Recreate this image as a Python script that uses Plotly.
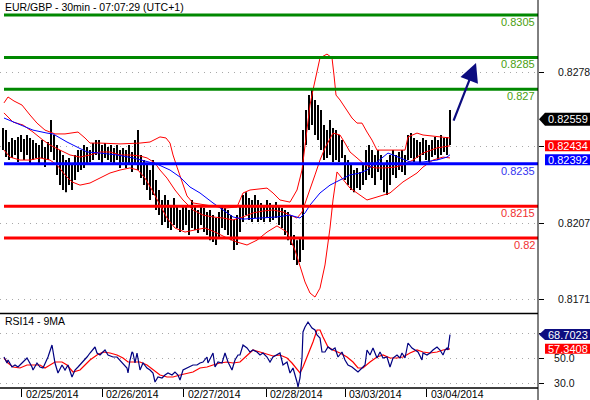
import plotly.graph_objects as go

# ---------------- data ----------------
bar_high = [
    0.82518, 0.82508, 0.82452, 0.82471, 0.82461, 0.82476, 0.82485, 0.82466, 0.82485, 0.82471,
    0.82461, 0.82447, 0.82438, 0.82461, 0.82428, 0.82452, 0.82556, 0.82485, 0.82438, 0.82414,
    0.82391, 0.82367, 0.82377, 0.82353, 0.82391, 0.82414, 0.82414, 0.82438, 0.82428, 0.82414,
    0.82447, 0.82461, 0.82461, 0.82438, 0.82447, 0.82428, 0.82438, 0.82424, 0.82438, 0.82414,
    0.82424, 0.82414, 0.82438, 0.82405, 0.82461, 0.82508, 0.82391, 0.82367, 0.82344, 0.82320,
    0.82367, 0.82273, 0.82226, 0.82179, 0.82202, 0.82179, 0.82155, 0.82188, 0.82155, 0.82132,
    0.82146, 0.82155, 0.82132, 0.82179, 0.82155, 0.82132, 0.82155, 0.82141, 0.82122, 0.82132,
    0.82108, 0.82094, 0.82122, 0.82155, 0.82141, 0.82132, 0.82108, 0.82085, 0.82108, 0.82155,
    0.82202, 0.82216, 0.82188, 0.82179, 0.82202, 0.82179, 0.82165, 0.82155, 0.82179, 0.82165,
    0.82155, 0.82169, 0.82155, 0.82141, 0.82132, 0.82122, 0.82108, 0.82014, 0.81990, 0.82000,
    0.82508, 0.82603, 0.82673, 0.82697, 0.82650, 0.82626, 0.82603, 0.82532, 0.82508, 0.82556,
    0.82518, 0.82508, 0.82485, 0.82461, 0.82391, 0.82367, 0.82344, 0.82320, 0.82330, 0.82311,
    0.82344, 0.82414, 0.82438, 0.82414, 0.82391, 0.82414, 0.82391, 0.82344, 0.82367, 0.82391,
    0.82414, 0.82391, 0.82405, 0.82414, 0.82391, 0.82485, 0.82494, 0.82471, 0.82461, 0.82452,
    0.82471, 0.82461, 0.82438, 0.82461, 0.82476, 0.82461, 0.82485, 0.82471, 0.82476, 0.82603,
]
bar_low = [
    0.82414, 0.82381, 0.82367, 0.82377, 0.82391, 0.82358, 0.82405, 0.82367, 0.82391, 0.82344,
    0.82367, 0.82377, 0.82353, 0.82377, 0.82334, 0.82367, 0.82405, 0.82367, 0.82297, 0.82249,
    0.82226, 0.82216, 0.82249, 0.82226, 0.82273, 0.82311, 0.82320, 0.82330, 0.82344, 0.82358,
    0.82367, 0.82391, 0.82367, 0.82344, 0.82377, 0.82367, 0.82358, 0.82344, 0.82367, 0.82330,
    0.82358, 0.82330, 0.82344, 0.82311, 0.82344, 0.82320, 0.82282, 0.82249, 0.82226, 0.82179,
    0.82202, 0.82132, 0.82108, 0.82061, 0.82075, 0.82047, 0.82038, 0.82061, 0.82047, 0.82028,
    0.82038, 0.82061, 0.82014, 0.82047, 0.82038, 0.82023, 0.82061, 0.82028, 0.82014, 0.81990,
    0.81981, 0.81967, 0.82000, 0.82047, 0.82038, 0.82014, 0.81990, 0.81943, 0.81967, 0.82028,
    0.82075, 0.82108, 0.82085, 0.82075, 0.82094, 0.82075, 0.82085, 0.82075, 0.82094, 0.82075,
    0.82085, 0.82094, 0.82061, 0.82047, 0.82014, 0.81990, 0.81967, 0.81896, 0.81873, 0.81887,
    0.81943, 0.82438, 0.82508, 0.82532, 0.82485, 0.82461, 0.82414, 0.82367, 0.82377, 0.82391,
    0.82358, 0.82367, 0.82358, 0.82377, 0.82273, 0.82249, 0.82226, 0.82216, 0.82235, 0.82226,
    0.82249, 0.82273, 0.82297, 0.82282, 0.82249, 0.82311, 0.82273, 0.82216, 0.82202, 0.82249,
    0.82297, 0.82282, 0.82320, 0.82311, 0.82297, 0.82367, 0.82377, 0.82358, 0.82377, 0.82344,
    0.82391, 0.82367, 0.82358, 0.82381, 0.82391, 0.82367, 0.82391, 0.82405, 0.82391, 0.82438,
]
bar_x = list(range(len(bar_high)))

bb_upper_x = [0.33, 1.67, 3.67, 6.33, 9, 11.33, 14, 17.33, 20.67, 25, 27.33, 29, 32.33, 39, 45.67,
              49, 52.33, 54.33, 55.67, 56.67, 58, 59.67, 61.33, 63.33, 68, 74, 78, 80, 82.33, 88,
              90, 92.33, 95.67, 98, 99.67, 101, 102.33, 103.33, 104.67, 105.67, 108, 109.67,
              110.33, 111, 112.33, 114.67, 116.33, 118, 119.67, 121.33, 123, 124.67, 129, 134,
              135, 138, 140, 144.67, 149]
bb_upper = [0.82636, 0.82664, 0.82645, 0.82626, 0.82579, 0.82541, 0.82508, 0.82490, 0.82490,
            0.82499, 0.82471, 0.82447, 0.82447, 0.82443, 0.82447, 0.82452, 0.82476, 0.82471,
            0.82447, 0.82391, 0.82334, 0.82264, 0.82198, 0.82165, 0.82155, 0.82141, 0.82146,
            0.82212, 0.82226, 0.82235, 0.82212, 0.82179, 0.82169, 0.82226, 0.82320, 0.82485,
            0.82626, 0.82697, 0.82791, 0.82848, 0.82866, 0.82848, 0.82767, 0.82673, 0.82650,
            0.82603, 0.82565, 0.82541, 0.82541, 0.82499, 0.82461, 0.82414, 0.82414, 0.82414,
            0.82476, 0.82494, 0.82485, 0.82476, 0.82471]

bb_mid_x = [0.33, 3.33, 6.67, 10, 13.33, 15.67, 19, 22.33, 25.67, 29, 32.33, 35.67, 39, 42.33,
            45.67, 48, 50.67, 52.33, 54.67, 57.33, 60, 63.33, 66.67, 70, 73.33, 76.67, 80, 83.33,
            86.67, 90, 93.33, 95.67, 98, 99.67, 101, 102.33, 104, 105.67, 107.33, 110, 112.33,
            114, 115.67, 118, 120.67, 124, 127.33, 130.67, 133.33, 136.67, 140, 144.67, 149]
bb_mid = [0.82589, 0.82546, 0.82532, 0.82499, 0.82461, 0.82438, 0.82414, 0.82391, 0.82381,
          0.82391, 0.82405, 0.82405, 0.82391, 0.82391, 0.82386, 0.82377, 0.82353, 0.82320,
          0.82282, 0.82226, 0.82179, 0.82132, 0.82108, 0.82099, 0.82094, 0.82085, 0.82099,
          0.82118, 0.82127, 0.82132, 0.82122, 0.82108, 0.82094, 0.82122, 0.82179, 0.82235,
          0.82297, 0.82367, 0.82424, 0.82494, 0.82485, 0.82447, 0.82405, 0.82377, 0.82344,
          0.82330, 0.82330, 0.82334, 0.82344, 0.82367, 0.82400, 0.82424, 0.82434]

bb_lower_x = [0.33, 2.33, 5.67, 9, 12.33, 15.67, 18, 20.67, 23, 25.67, 29, 32.33, 35.67, 39,
              42.33, 45, 47.33, 49.67, 52.33, 54.67, 57.33, 60.67, 64, 67.33, 70.67, 74.67, 78,
              81.33, 84.67, 88, 91.33, 94.67, 97.33, 99, 100.67, 102.33, 104, 105.67, 107.33,
              109, 110, 111.33, 113, 115.67, 119, 121.33, 124.67, 129, 133.33, 138, 140, 143.33,
              146.67, 149]
bb_lower = [0.82414, 0.82381, 0.82367, 0.82367, 0.82377, 0.82367, 0.82344, 0.82297, 0.82264,
            0.82249, 0.82259, 0.82282, 0.82306, 0.82320, 0.82330, 0.82320, 0.82282, 0.82226,
            0.82155, 0.82094, 0.82047, 0.82028, 0.82038, 0.82047, 0.82028, 0.82000, 0.81981,
            0.81967, 0.81990, 0.82028, 0.82057, 0.82028, 0.81943, 0.81873, 0.81793, 0.81741,
            0.81722, 0.81764, 0.81873, 0.82047, 0.82179, 0.82311, 0.82282, 0.82235, 0.82202,
            0.82179, 0.82193, 0.82212, 0.82264, 0.82306, 0.82334, 0.82367, 0.82381, 0.82377]

ma_x = [0.33, 5.67, 10, 14.67, 16.67, 21.33, 24.67, 28, 32.33, 38, 43.33, 48, 51.33, 55.67, 59,
        62.33, 65.67, 70, 73.33, 76.67, 80, 85.67, 91.33, 95.67, 99, 100.67, 102.33, 105.67, 109,
        112.33, 115.67, 119, 121.33, 124.67, 126.67, 128.33, 130, 132.33, 135.67, 140, 144.67,
        148, 149]
ma_vals = [0.82565, 0.82532, 0.82508, 0.82494, 0.82490, 0.82452, 0.82428, 0.82405, 0.82400,
           0.82391, 0.82377, 0.82358, 0.82348, 0.82320, 0.82287, 0.82240, 0.82212, 0.82165,
           0.82132, 0.82099, 0.82089, 0.82094, 0.82099, 0.82108, 0.82094, 0.82118, 0.82155,
           0.82212, 0.82249, 0.82273, 0.82297, 0.82306, 0.82320, 0.82358, 0.82381, 0.82400,
           0.82391, 0.82377, 0.82358, 0.82358, 0.82367, 0.82381, 0.82392]

rsi_x = [0.33, 1.33, 1.67, 3, 4, 5, 6.33, 7.33, 8, 9.67, 10, 11.33, 12.33, 13.33, 15, 16.33,
         16.67, 17.33, 18.33, 19.67, 20.67, 21.67, 23, 24, 25, 26.33, 28, 29, 30, 30.67, 31.33,
         32.33, 33.33, 34, 35, 36.67, 38, 39, 40, 41.33, 41.67, 42.33, 43, 43.33, 44, 44.67,
         45.67, 46.67, 48, 49, 50, 50.67, 51.67, 53, 54, 55, 56.33, 57.33, 58.33, 59, 60, 61.33,
         62.33, 63.33, 64.67, 65.67, 66.67, 68, 68.33, 69.67, 70, 70.67, 71.67, 73, 74, 75,
         76.33, 77.33, 78.33, 79, 80, 81.33, 82.33, 83.33, 84.67, 85.67, 86.67, 88, 89, 90,
         91.33, 92.33, 93.33, 94.67, 95.67, 96.67, 98, 98.33, 99, 99.67, 100, 100.67, 101.67,
         103, 104, 104.67, 105.67, 106.33, 107.33, 108.33, 109.67, 110.67, 111.67, 113, 114,
         115, 116.33, 117.33, 118.33, 119.67, 120.67, 121.33, 122.33, 123.33, 124.67, 125.67,
         126.67, 128, 129, 130, 131.33, 132.33, 133, 134, 135, 136.33, 137.33, 138.33, 139.67,
         140, 141.33, 142.33, 143.33, 144.67, 145.67, 146.67, 147.33, 148, 148.33, 149]
rsi_vals = [50.8, 46.0, 48.4, 42.8, 44.4, 42.8, 46.0, 48.4, 50.0, 42.8, 40.4, 46.0, 42.8, 42.0,
            50.8, 60.4, 54.0, 46.0, 38.0, 44.4, 40.4, 44.4, 34.8, 40.4, 42.8, 46.0, 50.8, 54.0,
            56.4, 58.8, 54.0, 52.4, 54.8, 56.4, 52.4, 50.8, 50.8, 48.4, 46.0, 42.0, 38.0, 48.4,
            54.8, 54.0, 46.0, 54.0, 40.4, 46.0, 42.0, 40.4, 38.0, 30.8, 34.8, 34.0, 36.4, 38.0,
            36.4, 38.8, 36.4, 32.4, 40.4, 42.0, 42.8, 44.4, 44.4, 46.0, 46.8, 50.8, 46.0, 52.4,
            54.0, 42.8, 46.8, 46.0, 54.0, 46.8, 40.4, 48.4, 52.4, 52.4, 60.4, 58.0, 54.8, 56.4,
            54.8, 52.4, 54.0, 50.8, 46.8, 50.8, 52.4, 54.0, 44.4, 46.8, 38.0, 42.0, 30.8, 26.8,
            34.0, 50.0, 70.8, 74.8, 78.8, 74.0, 72.4, 68.4, 66.0, 54.8, 54.8, 58.8, 56.4, 58.0,
            50.8, 54.8, 48.4, 44.4, 42.8, 40.4, 38.8, 42.0, 44.4, 56.4, 52.4, 58.0, 50.0, 54.8,
            50.0, 50.8, 42.8, 50.0, 52.4, 50.0, 54.0, 50.0, 62.0, 58.0, 56.4, 54.8, 48.4, 54.0,
            52.4, 54.0, 56.4, 58.8, 56.4, 52.4, 56.4, 58.0, 56.4, 68.7023]

rsi_ma_x = [0.33, 1.67, 3.33, 5.67, 8, 10, 12.33, 14, 15.67, 17.33, 19.67, 21.33, 23.33, 25.67,
            27.33, 29, 31.33, 33.33, 35.67, 38, 40, 41.67, 43.33, 45.67, 48, 50, 52.33, 54.67,
            56.67, 59, 61.33, 63.33, 65.67, 68, 70, 72.33, 74.67, 76.67, 79, 81.33, 83.33, 85.67,
            88, 90, 92.33, 94.67, 96.33, 98, 99, 100, 101.67, 103.33, 104.67, 105.67, 106.67,
            108.33, 110, 112.33, 114.67, 116.67, 118.33, 120, 122.33, 124.67, 126.67, 129,
            131.33, 133.33, 135.67, 138, 140, 142.33, 144.67, 146.67, 149]
rsi_ma_vals = [50.0, 46.0, 42.8, 42.0, 44.4, 44.4, 44.4, 42.0, 44.4, 46.8, 46.8, 44.4, 38.8,
               40.4, 44.4, 48.4, 52.4, 54.8, 54.0, 52.4, 50.0, 46.8, 46.8, 46.8, 44.4, 40.4,
               36.4, 34.8, 34.8, 36.4, 38.0, 38.8, 42.0, 42.8, 44.4, 46.0, 46.8, 46.0, 46.8,
               52.4, 56.4, 54.8, 53.2, 51.6, 52.4, 50.0, 46.0, 40.4, 38.0, 42.8, 52.4, 62.8,
               72.4, 72.4, 66.8, 58.8, 56.4, 54.0, 50.8, 46.8, 42.0, 42.0, 46.8, 50.8, 52.4,
               50.0, 50.0, 50.8, 54.0, 56.4, 54.8, 54.0, 54.8, 56.4, 57.3408]

green_levels = [0.8305, 0.8285, 0.827]
green_labels = ["0.8305", "0.8285", "0.827"]
blue_levels = [0.8235]
blue_labels = ["0.8235"]
red_levels = [0.8215, 0.82]
red_labels = ["0.8215", "0.82"]

# gridline values; the 0.8243 and 70.0 labels are hidden behind the value boxes
price_ticks = [0.8171, 0.8207, 0.8243, 0.8278]
price_ticktext = ["0.8171", "0.8207", "", "0.8278"]
rsi_ticks = [30, 50, 70]
rsi_ticktext = ["30.0", "50.0", ""]

day_pos = [6.33, 33, 60.33, 87.67, 114, 141.33]
day_labels = ["02/25/2014", "02/26/2014", "02/27/2014", "02/28/2014", "03/03/2014", "03/04/2014"]

last_close = 0.82559
bb_mid_last = 0.82434
ma_last = 0.82392
rsi_last = 68.7023
rsi_ma_last = 57.3408

arrow_from = (150.0, 0.82546)
arrow_to = (157.67, 0.82824)

title_main = "EUR/GBP - 30min - 07:07:29 (UTC+1)"
title_rsi = "RSI14 - 9MA"

# ---------------- layout geometry ----------------
W, H = 590, 400
ML, MR, MT, MB = 0, 52, 0, 12
PW = W - ML - MR
PH = H - MT - MB
MAIN_PX = 313
RSI_PX = 74
main_dom = [(PH - MAIN_PX) / PH, 1.0]
rsi_dom = [0.0, RSI_PX / PH]
price_range = [0.816469, 0.831206]
rsi_range = [26.0, 85.2]
x_range = [-1, (PW - 3) / 3]

FONT = "Arial, Liberation Sans, sans-serif"
price_per_px = (price_range[1] - price_range[0]) / MAIN_PX
rsi_per_px = (rsi_range[1] - rsi_range[0]) / RSI_PX


def px2paper_x(p):
    return (p - ML) / PW


def px2paper_y(p):
    return (PH - (p - MT)) / PH


fig = go.Figure()

# price bars
bx, by = [], []
for i, h, l in zip(bar_x, bar_high, bar_low):
    bx += [i, i, None]
    by += [l, h, None]
fig.add_trace(go.Scatter(x=bx, y=by, mode="lines", line=dict(color="black", width=2),
                         xaxis="x", yaxis="y", hoverinfo="skip"))

for xs, ys in [(bb_upper_x, bb_upper), (bb_mid_x, bb_mid), (bb_lower_x, bb_lower)]:
    fig.add_trace(go.Scatter(x=xs, y=ys, mode="lines", line=dict(color="#ff0000", width=1),
                             xaxis="x", yaxis="y", hoverinfo="skip"))
fig.add_trace(go.Scatter(x=ma_x, y=ma_vals, mode="lines", line=dict(color="#0000ff", width=1),
                         xaxis="x", yaxis="y", hoverinfo="skip"))

# RSI
fig.add_trace(go.Scatter(x=rsi_ma_x, y=rsi_ma_vals, mode="lines", line=dict(color="#ff0000", width=1.2),
                         xaxis="x2", yaxis="y2", hoverinfo="skip"))
fig.add_trace(go.Scatter(x=rsi_x, y=rsi_vals, mode="lines", line=dict(color="#000080", width=1.2),
                         xaxis="x2", yaxis="y2", hoverinfo="skip"))

shapes = []
annotations = []

# level lines + labels
for levels, labels, lc, tc in [(green_levels, green_labels, "#008800", "#4a9e10"),
                               (blue_levels, blue_labels, "#0000ff", "#3535f0"),
                               (red_levels, red_labels, "#ff0000", "#f03030")]:
    for v, t in zip(levels, labels):
        shapes.append(dict(type="line", xref="paper", yref="y", x0=px2paper_x(4), x1=1,
                           y0=v, y1=v, line=dict(color=lc, width=3)))
        annotations.append(dict(text=t, xref="paper", yref="y", x=1, y=v, xanchor="right",
                                yanchor="middle", xshift=-1, yshift=-7, showarrow=False,
                                font=dict(family=FONT, size=11, color=tc)))

# panel frame lines
shapes.append(dict(type="line", xref="paper", yref="paper", x0=0, x1=1,
                   y0=px2paper_y(313.5), y1=px2paper_y(313.5), line=dict(color="black", width=1.5)))
shapes.append(dict(type="line", xref="paper", yref="paper", x0=0, x1=1,
                   y0=px2paper_y(388), y1=px2paper_y(388), line=dict(color="black", width=1.5)))
shapes.append(dict(type="line", xref="paper", yref="paper", x0=1, x1=1,
                   y0=px2paper_y(400), y1=1, line=dict(color="black", width=1)))


def value_box(val, yref, per_px, color, text, arrow=False, shift_px=0, half=6):
    x_tip = px2paper_x(539)
    x_l = px2paper_x(545)
    x_r = px2paper_x(590)
    c = val - shift_px * per_px
    hh = half * per_px
    if arrow:
        path = (f"M {x_tip},{c} L {x_l},{c + hh} L {x_r},{c + hh} "
                f"L {x_r},{c - hh} L {x_l},{c - hh} Z")
    else:
        path = (f"M {x_l},{c + hh} L {x_r},{c + hh} L {x_r},{c - hh} L {x_l},{c - hh} Z")
    shapes.append(dict(type="path", xref="paper", yref=yref, path=path,
                       fillcolor=color, line=dict(width=0), layer="above"))
    annotations.append(dict(text=text, xref="paper", yref=yref, x=px2paper_x(567.5), y=c,
                            xanchor="center", yanchor="middle", showarrow=False,
                            font=dict(family=FONT, size=11, color="white")))


value_box(last_close, "y", price_per_px, "#000000", f"{last_close:.5f}", arrow=True, half=6.5)
value_box(bb_mid_last, "y", price_per_px, "#ff0000", f"{bb_mid_last:.5f}", half=5.5)
value_box(ma_last, "y", price_per_px, "#0000ff", f"{ma_last:.5f}", shift_px=5, half=5.5)
value_box(rsi_last, "y2", rsi_per_px, "#0c0c80", f"{rsi_last:.4f}", arrow=True, half=5.5)
value_box(rsi_ma_last, "y2", rsi_per_px, "#ff0000", f"{rsi_ma_last:.4f}", half=5)

# titles
annotations.append(dict(text=title_main, xref="paper", yref="paper", x=px2paper_x(3),
                        y=px2paper_y(7), xanchor="left", yanchor="middle", showarrow=False,
                        font=dict(family=FONT, size=10.5, color="black")))
annotations.append(dict(text=title_rsi, xref="paper", yref="paper", x=px2paper_x(3),
                        y=px2paper_y(321), xanchor="left", yanchor="middle", showarrow=False,
                        font=dict(family=FONT, size=10.5, color="black")))

# date labels
for p, t in zip(day_pos, day_labels):
    annotations.append(dict(text=t, xref="x2", yref="paper", x=p, y=px2paper_y(394),
                            xanchor="left", yanchor="middle", xshift=2, showarrow=False,
                            font=dict(family=FONT, size=10.5, color="black")))

# forecast arrow
annotations.append(dict(x=arrow_to[0], y=arrow_to[1], ax=arrow_from[0], ay=arrow_from[1],
                        xref="x", yref="y", axref="x", ayref="y", text="", showarrow=True,
                        arrowhead=2, arrowsize=1.7, arrowwidth=2.2, arrowcolor="#0c0c80"))

grid = dict(showgrid=True, gridcolor="#a8a8a8", griddash="1px,5px", gridwidth=1)

fig.update_layout(
    width=W, height=H, margin=dict(l=ML, r=MR, t=MT, b=MB),
    paper_bgcolor="white", plot_bgcolor="white", showlegend=False,
    xaxis=dict(domain=[0, 1], range=x_range, anchor="y", showticklabels=False,
               showgrid=False, zeroline=False, showline=False, ticks=""),
    xaxis2=dict(domain=[0, 1], range=x_range, anchor="y2", matches="x",
                tickvals=day_pos, ticktext=[""] * len(day_pos), ticks="outside",
                ticklen=8, tickcolor="black", tickwidth=1, showgrid=False, zeroline=False,
                showline=False),
    yaxis=dict(domain=main_dom, range=price_range, anchor="x", side="right",
               tickvals=price_ticks, ticktext=price_ticktext, ticks="outside", ticklen=5,
               tickcolor="black", zeroline=False, showline=False, ticklabelstandoff=12,
               tickfont=dict(family=FONT, size=10.5, color="#111111"), **grid),
    yaxis2=dict(domain=rsi_dom, range=rsi_range, anchor="x2", side="right",
                tickvals=rsi_ticks, ticktext=rsi_ticktext, ticks="outside", ticklen=5,
                tickcolor="black", zeroline=False, showline=False, ticklabelstandoff=8,
                tickfont=dict(family=FONT, size=10.5, color="#111111"), **grid),
    shapes=shapes, annotations=annotations,
)

fig.write_html("out.html", config={"displayModeBar": False},
               post_script="document.body.style.margin='0px';document.body.style.overflow='hidden';")
